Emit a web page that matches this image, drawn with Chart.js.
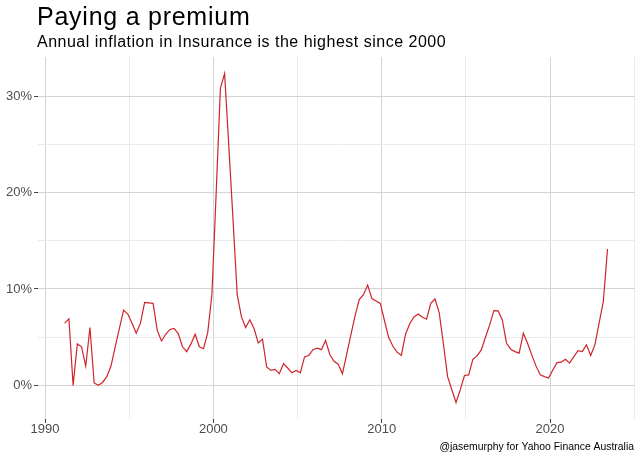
<!DOCTYPE html>
<html>
<head>
<meta charset="utf-8">
<script src="https://cdn.jsdelivr.net/npm/chart.js@4/dist/chart.umd.min.js"></script>
<style>
  html, body { margin: 0; padding: 0; background: #fff; }
  #chart { display: block; }
</style>
</head>
<body>
<canvas id="chart" width="640" height="457"></canvas>
<script>
// Annual inflation in the Insurance CPI group, quarterly, Mar 1991 - Jun 2023 (%)
const firstQuarter = 1991 + 2 / 12; // March 1991
const inflation = [
  6.45, 6.9, 0.0, 4.3, 4.0, 2.0, 6.0, 0.25, 0.0, 0.3,
  0.9, 2.0, 4.0, 5.9, 7.8, 7.4, 6.45, 5.4, 6.45, 8.6,
  8.55, 8.5, 5.7, 4.6, 5.3, 5.8, 5.9, 5.35, 4.0, 3.5,
  4.3, 5.3, 4.0, 3.8, 5.5, 9.5, 20.0, 30.8, 32.35, 24.8,
  17.2, 9.4, 7.1, 6.0, 6.8, 5.9, 4.4, 4.8, 1.9, 1.55,
  1.65, 1.2, 2.25, 1.8, 1.3, 1.55, 1.3, 2.95, 3.1, 3.7,
  3.85, 3.7, 4.65, 3.2, 2.5, 2.2, 1.2, 3.2, 5.2, 7.2,
  8.9, 9.4, 10.4, 9.0, 8.75, 8.5, 6.7, 4.95, 4.05, 3.45,
  3.1, 5.3, 6.4, 7.1, 7.4, 7.07, 6.86, 8.5, 8.96, 7.55,
  4.3, 0.9, -0.45, -1.78, -0.47, 1.02, 1.09, 2.71, 3.06, 3.68,
  4.99, 6.27, 7.75, 7.72, 6.79, 4.37, 3.75, 3.5, 3.34, 5.41,
  4.37, 3.16, 2.02, 1.09, 0.91, 0.75, 1.6, 2.36, 2.4, 2.71,
  2.3, 2.98, 3.6, 3.5, 4.2, 3.09, 4.2, 6.45, 8.68, 14.15
];

const yearTicks = [1990, 2000, 2010, 2020];
const percentTicks = [0, 10, 20, 30];

const titleText = 'Paying a premium';
const subtitleText = 'Annual inflation in Insurance is the highest since 2000';
const captionText = '@jasemurphy for Yahoo Finance Australia';

const FONT = '"Liberation Sans", Arial, Helvetica, sans-serif';
const MAJOR_GRID = '#d4d4d4';
const MINOR_GRID = '#ebebeb';

const points = inflation.map((v, i) => ({ x: firstQuarter + i / 4, y: v }));

// title, subtitle and caption laid out like the ggplot original
const textPlugin = {
  id: 'ggText',
  afterDraw(chart) {
    const ctx = chart.ctx;
    ctx.save();
    ctx.fillStyle = '#000';
    ctx.textBaseline = 'alphabetic';
    ctx.textAlign = 'left';
    ctx.font = '25px ' + FONT;
    ctx.letterSpacing = '0.75px';
    ctx.fillText(titleText, 37, 25);
    ctx.font = '16px ' + FONT;
    ctx.letterSpacing = '0.5px';
    ctx.fillText(subtitleText, 37, 47);
    ctx.letterSpacing = '0px';
    ctx.textAlign = 'right';
    ctx.font = '10.4px ' + FONT;
    ctx.fillText(captionText, 634, 450);
    ctx.restore();
  }
};

const gridColor = ctx => {
  const v = ctx.tick ? ctx.tick.value : null;
  return v !== null && Math.round(v) % 10 === 0 ? MAJOR_GRID : MINOR_GRID;
};
const tickColor = ctx => {
  const v = ctx.tick ? ctx.tick.value : null;
  return v !== null && Math.round(v) % 10 === 0 ? '#444' : 'rgba(0,0,0,0)';
};

new Chart(document.getElementById('chart'), {
  type: 'line',
  data: {
    datasets: [{
      data: points,
      borderColor: '#cf2429',
      borderWidth: 1.2,
      pointRadius: 0,
      tension: 0,
      fill: false
    }]
  },
  plugins: [textPlugin],
  options: {
    responsive: false,
    devicePixelRatio: 1,
    animation: false,
    layout: { padding: { top: 57, right: 5, left: 0, bottom: 0 } },
    plugins: {
      legend: { display: false },
      tooltip: { enabled: false }
    },
    scales: {
      x: {
        type: 'linear',
        min: 1989.58,
        max: 2025.05,
        afterFit: s => { s.height = 38; },
        border: { display: false },
        grid: { color: gridColor, tickColor: tickColor, tickLength: 4, lineWidth: 1 },
        afterBuildTicks: s => {
          s.ticks = [1990, 1995, 2000, 2005, 2010, 2015, 2020, 2025].map(v => ({ value: v }));
        },
        ticks: {
          autoSkip: false,
          maxRotation: 0,
          padding: -1,
          color: '#4d4d4d',
          font: { family: FONT, size: 13 },
          callback: v => yearTicks.includes(v) ? String(v) : ''
        }
      },
      y: {
        type: 'linear',
        min: -3.49,
        max: 34.06,
        afterFit: s => { s.width = 38; },
        border: { display: false },
        grid: { color: gridColor, tickColor: tickColor, tickLength: 4, lineWidth: 1 },
        afterBuildTicks: s => {
          s.ticks = [0, 5, 10, 15, 20, 25, 30].map(v => ({ value: v }));
        },
        ticks: {
          autoSkip: false,
          padding: 2,
          color: '#4d4d4d',
          font: { family: FONT, size: 13 },
          callback: v => percentTicks.includes(v) ? v + '%' : ''
        }
      }
    }
  }
});
</script>
</body>
</html>
